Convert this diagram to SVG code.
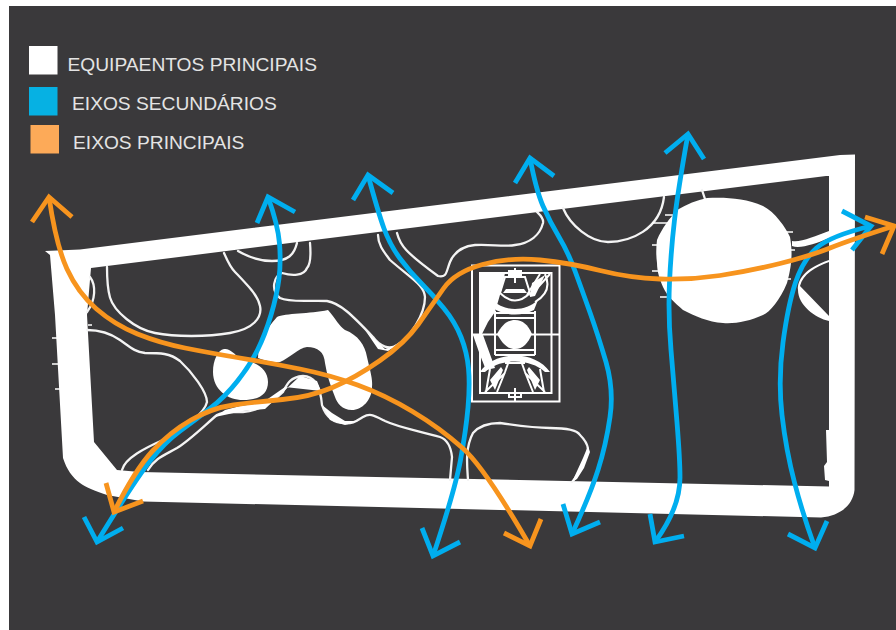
<svg xmlns="http://www.w3.org/2000/svg" width="896" height="630" viewBox="0 0 896 630">
<style>
.w{fill:#fff}
.t{fill:none;stroke:#f4f4f4;stroke-width:2.300;stroke-linecap:round;stroke-linejoin:round}
.k{fill:none;stroke:#fff;stroke-width:1.400}
.c{fill:none;stroke:#fff;stroke-width:2}
.b{fill:none;stroke:#00aeef;stroke-width:4.800}
.o{fill:none;stroke:#f7941e;stroke-width:4.800}
.l{font-family:"Liberation Sans",Arial,sans-serif;font-size:19.200px;fill:#e4e4e4}
</style>
<rect width="896" height="630" fill="#fff"/>
<rect x="9" y="6" width="887" height="624" fill="#3a393b"/>
<g id="legend">
<rect x="29" y="46" width="28.500" height="28.500" class="w"/>
<rect x="29" y="87" width="28.500" height="28.500" fill="#06b1e3"/>
<rect x="30.500" y="125" width="28.500" height="28.500" fill="#fdaa58"/>
<text class="l" x="67.500" y="70.500">EQUIPAENTOS PRINCIPAIS</text>
<text class="l" x="72" y="109.500">EIXOS SECUNDÁRIOS</text>
<text class="l" x="73" y="149">EIXOS PRINCIPAIS</text>
</g>
<g id="perimeter">
<path class="w" fill-rule="evenodd" d="M45,251 L80,249.500 L800,160 L840,155 L855,154.500 L854.500,490 C853,505 840,516 821,517.500 L143,501.500 L107,495 C95,491 85,487 80,483 C72,477 67,470 63,458 L55,315 L50,255 Z M91,268 L87,315 L94,442 L117,470 L140,472 L829,486.500 L829,176 L826,176 Z"/>
<path class="w" d="M826,430 L829,430 L829,481 L825,480 L824,466 L827,462 Z"/>
<path class="k" d="M52,338 H57 M52,364 H58 M55,389 H60 M88,325 H92"/>
</g>
<g id="paths">
<path class="t" d="M107,267 Q107,287 110,297.500 Q113,308 126.500,319 Q140,330 155,333 Q170,336 191.500,336 Q213,336 230,333 Q247,330 254.500,322.500 Q262,315 260,306 Q258,297 249,287 Q240,277 235,272 Q230,267 224,253"/>
<path class="t" d="M238,251 C250,258 262,261 272,261 C288,261 294,255 297,243"/>
<path class="t" d="M310,243 C311,255 310,265 307,268 C304,276 292,276 282,273 C274,276 270,290 280,298 C290,303 310,300 327,301 C340,303 352,315 373,337 C380,347 390,350 397,345 C410,337 425,315 425,297 C424,285 413,280 390,260 C384,252 378,245 378,235"/>
<path class="w" d="M365,330 L385,349 L397,345 L388,351 L378,349 Z"/>
<path class="t" d="M397,233 C400,245 405,252 438,276 C447,278 446,272 450,262 C455,250 465,246 475,245 C490,244 505,247 515,245 C530,243 540,235 543,223 C544,218 540,215 537,212"/>
<path class="t" d="M563,208 C570,225 590,242 608,242 C630,242 660,230 664,197"/>
<path class="t" d="M87,330 C100,330 110,333 120,340 C130,347 135,352 145,353 C160,353 170,353 180,361 C192,372 207,392 207,402 C205,412 185,430 163,440 C145,448 125,458 122,470"/>
<path class="t" d="M148,470 C155,458 165,455 177,448 C190,440 205,425 217,415 C225,410 235,413 243,412 C255,411 270,405 283,392 C287,384 290,377 303,376 C312,376 320,382 322,405 C326,418 335,423 343,423 C352,425 358,420 363,417 C370,413 373,415 385,421 C400,428 420,431 440,437 C448,440 451,447 452,457 L450,480"/>
<path class="w" d="M322,405 L330,420 L345,425 L358,421 L345,421 L332,413 Z M215,417 L243,411 L265,409 L283,392 L300,376 L317,381 L321,391 L285,387 L262,403 L240,406 L225,410 Z"/>
<path class="t" d="M468,480 C467,465 465,448 473,433 C480,425 490,423 500,423 C520,426 535,428 550,428 C565,428 577,430 580,435 C590,445 590,452 583,463 C580,470 577,477 572,482"/>
<path class="w" d="M572,482 L583,458 L588,446 L590,452 L584,468 L577,479 Z"/>
<path class="t" d="M90,277 C96,285 96,300 87,312"/>
<path class="t" d="M702,190 L705,199"/>
</g>
<g id="equipment-centre">
<path class="w" d="M258,358 C258,345 265,330 277,317 C285,313 310,314 328,310 C335,318 340,327 345,330 C358,335 365,345 367,357 C370,370 373,380 372,387 C372,400 362,410 352,410 C342,410 337,403 335,397 C330,385 327,375 325,363 C324,352 318,347 307,347 C298,348 290,358 280,362 C272,363 264,360 258,358 Z"/>
<path class="w" d="M213,372 C213,360 218,350 224,349 C230,348 234,354 240,358 C255,362 268,368 268,382 C268,395 258,400 243,400 C228,400 213,390 213,372 Z"/>
</g>
<g id="equipment-circle">
<path class="w" d="M707,198 C725,197 745,198 763,206 C775,212 786,228 790,237 C792,248 793,262 787,283 C780,300 770,312 763,315 C750,321 735,324 723,323 C708,322 695,316 683,310 C675,303 667,296 663,287 C660,280 657,272 657,263 C656,255 656,248 657,240 C662,228 670,218 677,210 C687,204 697,200 707,198 Z"/>
<path class="k" d="M652,223 H668 M652,245 H660 M652,271 H660 M660,297 H668 M665,215 H676 M788,250 H795 M786,232 H793 M784,279 H791"/>
<path class="w" d="M792,241 C800,243 815,236 829,231 L829,238 C815,244 800,249 792,246 Z"/>
<path class="w" d="M829,262 C815,267 803,274 800,286 L829,316 L829,321 C815,318 798,305 798,290 C797,280 805,268 829,260 Z"/>
</g>
<g id="equipment-court">
<rect class="c" x="472" y="265.500" width="87.500" height="136"/>
<rect class="c" x="480" y="273" width="71.500" height="120"/>
<path class="w" d="M480,273 H505 L502,288 L495,312 L488,322 L482,334 H480 Z M473,335 H483 L495,368 L486,370 L480,355 Z"/>
<path class="c" d="M472,334.500 H560 M495,311 V355 M535,311 V355 M495,313 H535 M495,318 H535 M495,350 H535 M495,355 H535"/>
<path class="w" d="M515,320 C523,320 528,325 532,334 C528,343 523,349 515,349 C507,349 502,343 497,334 C502,325 507,320 515,320 Z"/>
<path d="M492,300 C505,312 525,312 538,300 L534,310 C522,316 508,316 496,310 Z" class="w"/>
<path class="w" d="M480,372 C495,350 535,350 550,372 L545,372 C530,358 500,358 485,372 Z"/>
<path class="c" d="M505,277 H525 L530,293 C520,303 510,303 500,293 Z M505,372 L510,358 H520 L525,372 M486,392 L490,369 M497,392 L505,372 M533,392 L525,372 M544,392 L540,369 M485,392 L505,373 M545,392 L525,373 M550,274 L530,296 M540,274 L527,295 M545,274 C550,285 547,295 535,302 M505,363 H525"/>
<path class="w" d="M506,289 H524 L527,293 H503 Z M532,283 L545,275 L535,296 L530,297 Z M490,380 L501,367 L503,370 L495,390 Z M540,380 L529,367 L527,370 L535,390 Z"/>
<path class="c" d="M509,271 H521 V275 H509 Z M515,268 V283 M509,393 H521 V397 H509 Z M515,388 V401"/>
</g>
<g id="connectors">
<path class="b" d="M268,197 Q278,225 279.500,243.500 Q281,262 279,278.500 Q277,295 271,315 Q265,335 257.500,350 Q250,365 237.500,381 Q225,397 210,408.500 Q195,420 180,431 Q165,442 150,461 Q135,480 97,542"/>
<path class="b" d="M257,223 L268,197 L295,212 M84,517 L97,542 L123,528"/>
<path class="b" d="M368,175 Q378,212 384,228.500 Q390,245 400,258.500 Q410,272 421.500,283.500 Q433,295 444,308.500 Q455,322 461,337 Q467,352 468.500,368.500 Q470,385 468,407.500 Q466,430 460.500,460 Q455,490 433,556"/>
<path class="b" d="M353,200 L368,175 L393,193 M422,528 L433,556 L460,542"/>
<path class="b" d="M530,158 Q536,190 543,206 Q550,222 559,237 Q568,252 575,271 Q582,290 590,312.500 Q598,335 606,362 Q614,390 610,417 Q606,445 598,470 Q590,495 572,534"/>
<path class="b" d="M515,183 L530,158 L554,176 M563,504 L572,534 L600,522"/>
<path class="b" d="M688,134 Q678,190 674.500,220 Q671,250 669.500,282.500 Q668,315 671,350 Q674,385 677,422.500 Q680,460 680,477.500 Q680,508 655,542"/>
<path class="b" d="M665,153 L688,134 L704,159 M650,514 L655,542 L684,536"/>
<path class="b" d="M871,226 Q830,236 816.500,248 Q803,260 795.500,282.500 Q788,305 783,342.500 Q778,380 782,415 Q786,450 794.500,482.500 Q803,515 815,548"/>
<path class="b" d="M842,211 L871,226 L852,250 M788,534 L815,548 L827,521"/>
<path class="o" d="M49,197 Q56,245 67,269 Q78,293 96.500,309 Q115,325 137.500,334 Q160,343 185,348 Q210,353 240,358 Q270,363 300,369 Q330,375 357.500,385 Q385,395 412.500,411.500 Q440,428 462.500,448 Q485,468 530,546"/>
<path class="o" d="M32,222 L49,197 L72,217 M504,533 L530,546 L541,519"/>
<path class="o" d="M114,512 Q135,470 152.500,451 Q170,432 191,420 Q212,408 233.500,405 Q255,402 282.500,399.500 Q310,397 332.500,387.500 Q355,378 380,360.500 Q405,343 418.500,324 Q432,305 443.500,288.500 Q455,272 482.500,264.500 Q510,257 540,260 Q570,263 600,270.500 Q630,278 660,279 Q690,280 720,275.500 Q750,271 780,263.500 Q810,256 830,248 Q850,240 894,226"/>
<path class="o" d="M106,483 L114,512 L143,501 M865,217 L894,226 L882,254"/>
</g>
</svg>
